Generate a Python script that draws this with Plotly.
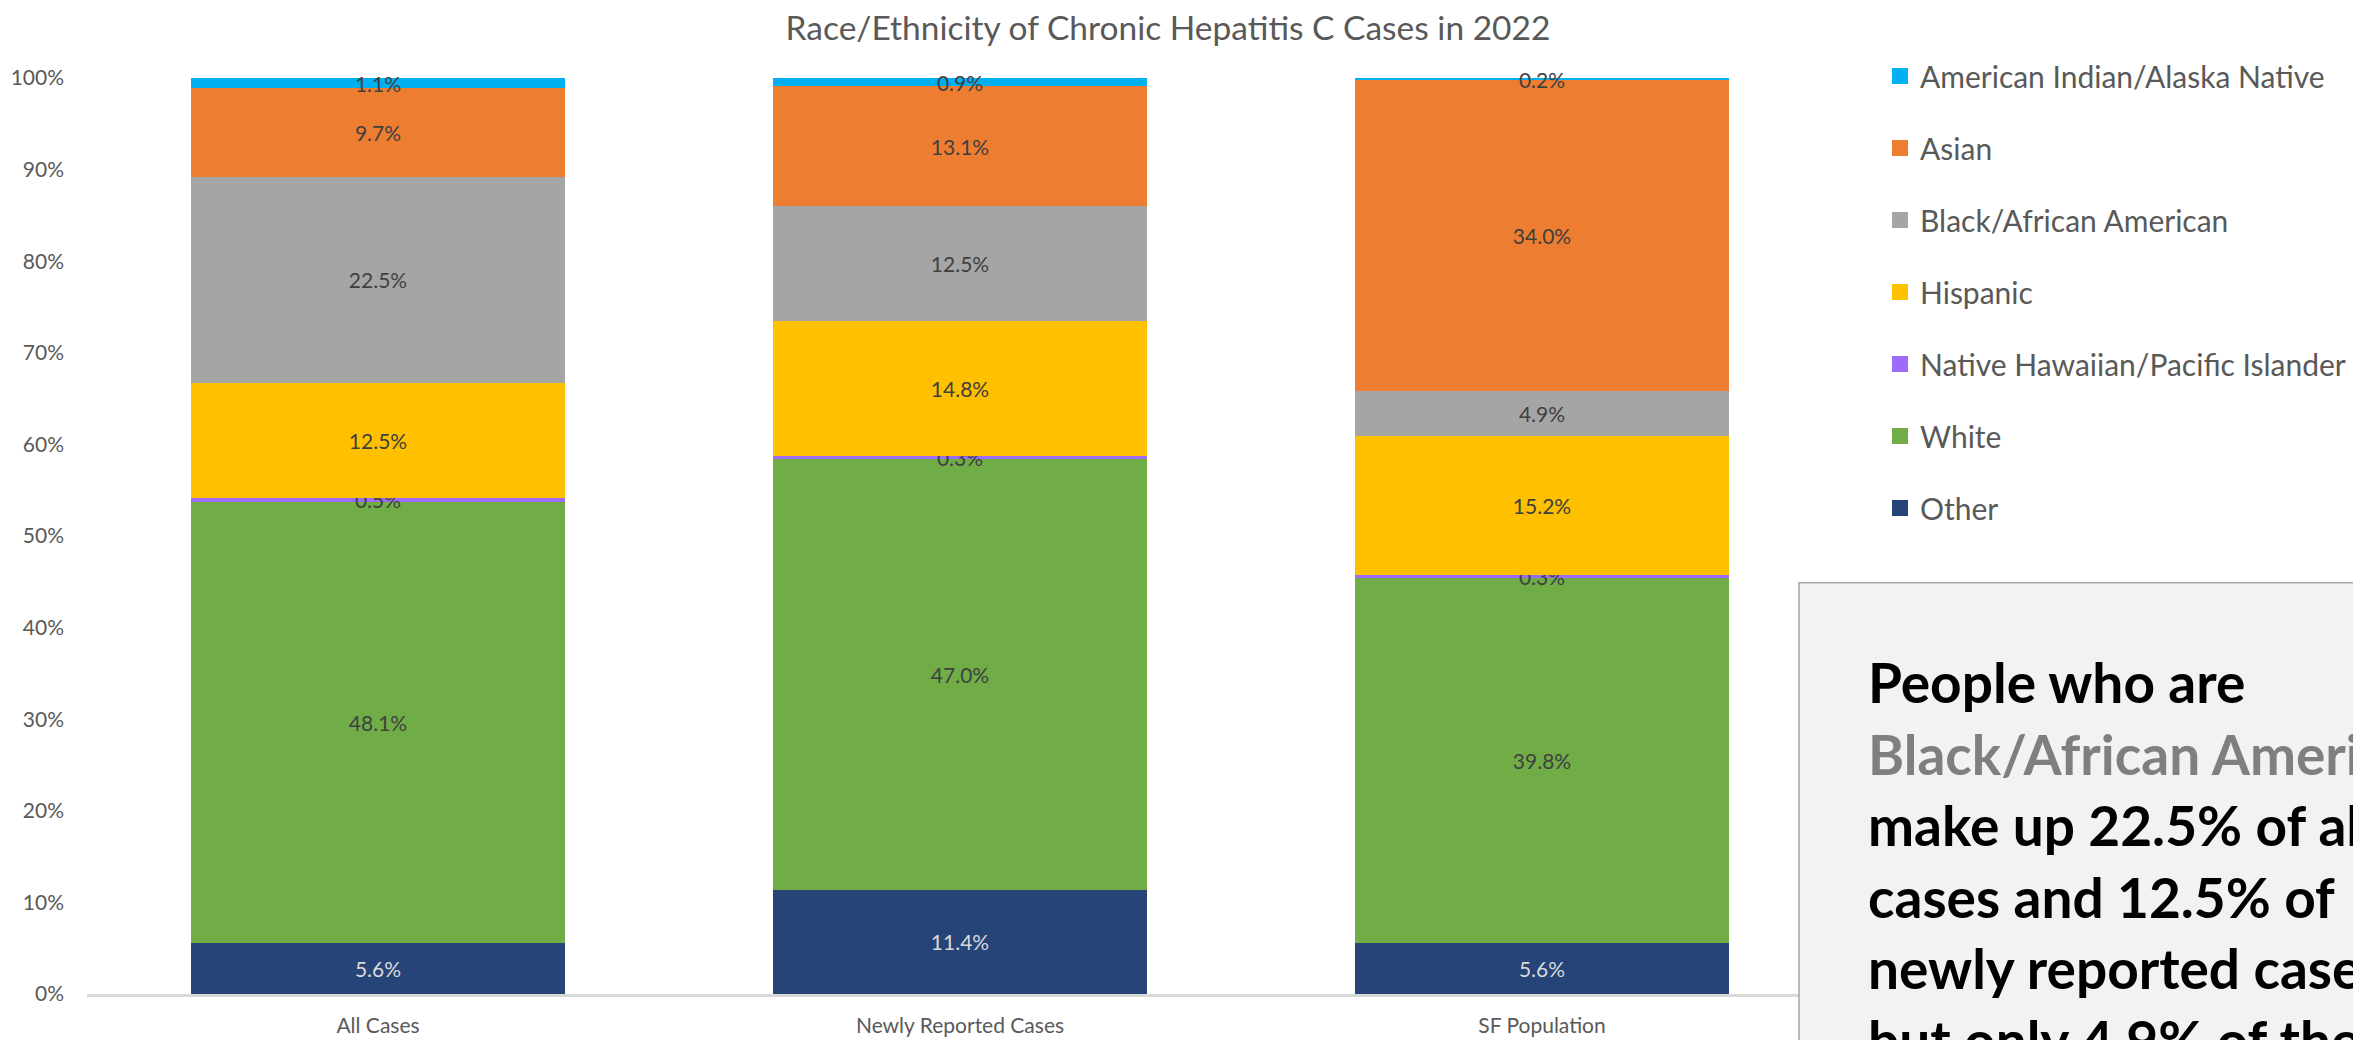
import plotly.graph_objects as go

categories = ["All Cases", "Newly Reported Cases", "SF Population"]

# stacked from bottom to top
series_names = [
    "Other",
    "White",
    "Native Hawaiian/Pacific Islander",
    "Hispanic",
    "Black/African American",
    "Asian",
    "American Indian/Alaska Native",
]
other = [5.6, 11.4, 5.6]
white = [48.1, 47.0, 39.8]
nhpi = [0.5, 0.3, 0.3]
hispanic = [12.5, 14.8, 15.2]
black = [22.5, 12.5, 4.9]
asian = [9.7, 13.1, 34.0]
aian = [1.1, 0.9, 0.2]
series_values = [other, white, nhpi, hispanic, black, asian, aian]

colors = {
    "Other": "#264478",
    "White": "#70AD47",
    "Native Hawaiian/Pacific Islander": "#9E6AF8",
    "Hispanic": "#FFC000",
    "Black/African American": "#A5A5A5",
    "Asian": "#ED7D31",
    "American Indian/Alaska Native": "#00B0F0",
}

y_ticks = list(range(0, 101, 10))
y_tick_labels = [f"{v}%" for v in y_ticks]

FONT = "Lato, 'Open Sans', sans-serif"

# page offset of the plot div (default body margin)
OFF = 8
W, H = 2361 - OFF, 1040 - OFF
# plot area in page pixels
PX0, PX1, PY0, PY1 = 87, 1833, 78, 994.5
L = PX0 - OFF
R = W - (PX1 - OFF)
T = PY0 - OFF
B = H - (PY1 - OFF)
plot_w = PX1 - PX0
plot_h = PY1 - PY0


def px_to_paper_x(px):
    return (px - PX0) / plot_w


def px_to_paper_y(py):
    return (PY1 - py) / plot_h


fig = go.Figure()

for name, vals in zip(series_names, series_values):
    fig.add_trace(
        go.Bar(
            x=categories,
            y=vals,
            name=name,
            marker=dict(color=colors[name], line=dict(width=0)),
            text=[f"{v:.1f}%" for v in vals],
            textposition="inside",
            insidetextanchor="middle",
            textangle=0,
            constraintext="none",
            cliponaxis=False,
            textfont=dict(
                family=FONT,
                size=21,
                color="#D9D9D9" if name == "Other" else "#404040",
            ),
            showlegend=False,
            hoverinfo="skip",
        )
    )

# legend entries (top of stack first)
for name in reversed(series_names):
    fig.add_trace(
        go.Scatter(
            x=[None],
            y=[None],
            mode="markers",
            name=name,
            legendgroup=name,
            marker=dict(symbol="square", size=16, color=colors[name]),
            showlegend=True,
        )
    )

# grey text box
fig.add_shape(
    type="rect",
    xref="paper",
    yref="paper",
    x0=px_to_paper_x(1799),
    x1=px_to_paper_x(2500),
    y0=px_to_paper_y(583),
    y1=px_to_paper_y(1200),
    fillcolor="#F2F2F2",
    line=dict(color="#A6A6A6", width=1.5),
    layer="above",
)

box_text = (
    "<b>People who are<br>"
    "<span style='color:#7F7F7F'>Black/African American</span><br>"
    "make up 22.5% of all<br>"
    "cases and 12.5% of<br>"
    "newly reported cases<br>"
    "but only 4.9% of the<br>"
    "SF population.</b>"
)
fig.add_annotation(
    text=box_text,
    xref="paper",
    yref="paper",
    x=px_to_paper_x(1866),
    y=px_to_paper_y(647),
    xanchor="left",
    yanchor="top",
    align="left",
    showarrow=False,
    font=dict(family=FONT, size=55, color="#000000"),
)

fig.update_layout(
    width=W,
    height=H,
    margin=dict(l=L, r=R, t=T, b=B, autoexpand=False),
    paper_bgcolor="white",
    plot_bgcolor="white",
    barmode="stack",
    bargap=0.356,
    title=dict(
        text="Race/Ethnicity of Chronic Hepatitis C Cases in 2022",
        x=(1168 - OFF) / W,
        xanchor="center",
        y=1 - (28 - OFF) / H,
        yanchor="middle",
        xref="container",
        yref="container",
        font=dict(family=FONT, size=33.5, color="#595959"),
    ),
    legend=dict(
        x=px_to_paper_x(1880),
        xanchor="left",
        y=px_to_paper_y(50),
        yanchor="top",
        traceorder="grouped",
        tracegroupgap=30,
        font=dict(family=FONT, size=30, color="#595959"),
        bgcolor="rgba(0,0,0,0)",
        itemsizing="trace",
    ),
    uniformtext=dict(mode="show", minsize=21),
    showlegend=True,
)

fig.update_xaxes(
    categoryorder="array",
    categoryarray=categories,
    range=[-0.5, 2.5],
    showline=True,
    linecolor="#D9D9D9",
    linewidth=2.5,
    showgrid=False,
    ticks="",
    ticklabelstandoff=11,
    tickfont=dict(family=FONT, size=21, color="#595959"),
    zeroline=False,
)
fig.update_yaxes(
    range=[0, 100],
    tickvals=y_ticks,
    ticktext=y_tick_labels,
    showline=False,
    showgrid=False,
    zeroline=False,
    ticks="",
    ticklabelstandoff=22,
    tickfont=dict(family=FONT, size=21, color="#595959"),
)

fig.write_html("out.html")
